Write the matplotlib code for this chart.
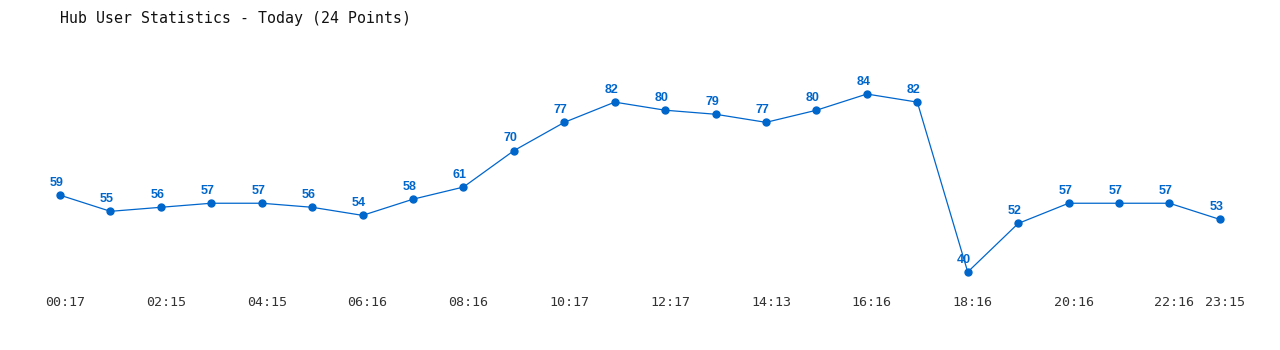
import matplotlib
matplotlib.use("Agg")
import matplotlib.pyplot as plt
import matplotlib.transforms as mtransforms

# Hub users per sample, today
users = [59, 55, 56, 57, 57, 56, 54, 58, 61, 70, 77, 82,
         80, 79, 77, 80, 84, 82, 40, 52, 57, 57, 57, 53]
tick_idx = [0, 2, 4, 6, 8, 10, 12, 14, 16, 18, 20, 22, 23]
tick_labels = ['00:17', '02:15', '04:15', '06:16', '08:16', '10:17', '12:17',
               '14:13', '16:16', '18:16', '20:16', '22:16', '23:15']

blue = '#0066CC'
W, H = 1280, 350

fig = plt.figure(figsize=(12.8, 3.5), dpi=100)
fig.patch.set_facecolor('white')
# plot area in pixels: x 30..1250, y 40..290 (from top)
ax = fig.add_axes([30 / W, (H - 290) / H, 1220 / W, 250 / H])
ax.set_xlim(-0.595, 23.597)
ax.set_ylim(35.55, 97.36)
ax.axis('off')

x = list(range(len(users)))
ax.plot(x, users, color=blue, lw=0.9, marker='o', ms=5, mec=blue, mfc=blue)

# value labels above each point
for i, v in zip(x, users):
    ax.annotate(str(v), (i, v), xytext=(-2.5, 9), textcoords='offset points',
                ha='center', va='center', fontsize=9, fontweight='bold',
                color=blue, family='Liberation Sans')

# time labels under the plot, a few px right of their point
off = mtransforms.offset_copy(ax.transData, fig=fig, x=5, y=0, units='dots')
trans = mtransforms.blended_transform_factory(off, ax.transAxes)
for i, lab in zip(tick_idx, tick_labels):
    ax.text(i, -12 / 250, lab, transform=trans,
            ha='center', va='center', fontsize=9.6, color='#333333',
            family='DejaVu Sans Mono')

fig.text(60 / W, 1 - 18 / H, 'Hub User Statistics - Today (24 Points)',
         ha='left', va='center', fontsize=10.75, color='#111111',
         family='DejaVu Sans Mono')

fig.savefig('out.png', dpi=100, facecolor='white')
